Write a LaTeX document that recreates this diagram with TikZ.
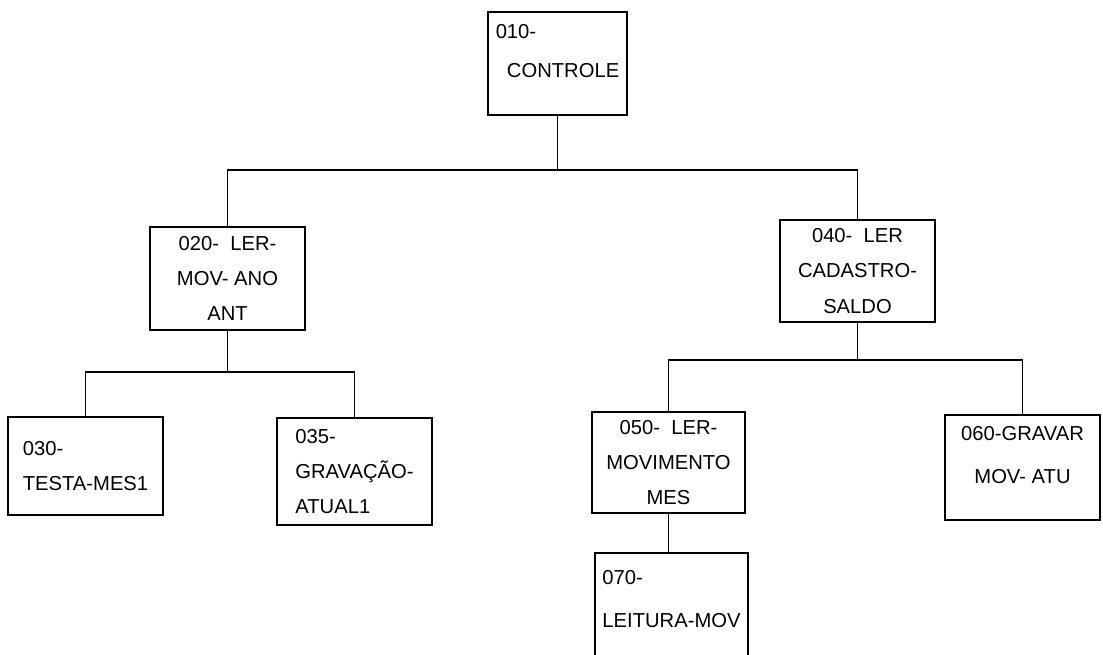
\documentclass[tikz,border=0pt]{standalone}
\usepackage{fontspec}
\setmainfont{Liberation Sans}
\usepackage{tikz}
\usetikzlibrary{positioning, calc}
\tikzset{
	modbox/.style ={rectangle, draw=black, line width=1.4pt, outer sep=0pt, inner sep=2pt, align=center, fill=white},
	link/.style   ={line width=1.1pt},
}
\begin{document}
\begin{tikzpicture}[x=0.02cm, y=-0.02cm, font=\fontsize{11.5}{20}\selectfont]
	\clip (0,0) rectangle (1103,655);
	\fill[white] (0,0) rectangle (1103,655);
	% top level
	\node[modbox, align=left, minimum width=139*0.02cm, minimum height=103*0.02cm, text depth=0.5cm] (b010) at (557.5,63.5) {010-\\[2pt] \ \ CONTROLE};
	% second level
	\node[modbox, minimum width=155*0.02cm, minimum height=103*0.02cm] (b020) at (227.5,278.5) {020-\ \ LER-\\ MOV-\ ANO\\ ANT};
	\node[modbox, minimum width=155*0.02cm, minimum height=102*0.02cm] (b040) at (857.5,271) {040-\ \ LER\\ CADASTRO-\\ SALDO};
	% third level
	\node[modbox, align=left, minimum width=155*0.02cm, minimum height=98*0.02cm] (b030) at (85.5,466) {030-\\ TESTA-MES1};
	\node[modbox, align=left, minimum width=155*0.02cm, minimum height=107*0.02cm] (b035) at (354.5,471.5) {035-\\ GRAVAÇÃO-\\ ATUAL1};
	\node[modbox, minimum width=153*0.02cm, minimum height=101*0.02cm] (b050) at (668.5,462.5) {050-\ \ LER-\\ MOVIMENTO\\ MES};
	\node[modbox, minimum width=155*0.02cm, minimum height=105*0.02cm, text depth=0.5cm] (b060) at (1022.5,467.5) {060-GRAVAR\\[4pt] MOV-\ ATU};
	\node[modbox, align=left, minimum width=153*0.02cm, minimum height=112*0.02cm, text depth=0.4cm] (b070) at (671.5,609) {070-\\[4pt] LEITURA-MOV};
	% junctions
	\coordinate (j1) at (563,170);
	\coordinate (j2) at (230,372);
	\coordinate (j3) at (857,360);
	% connectors
	\draw[link] (b010.south) -- (b010.south |- j1);
	\draw[link] (b020.north) |- (j1) -| (b040.north);
	\draw[link] (b020.south) -- (b020.south |- j2);
	\draw[link] (b030.north) |- (j2) -| (b035.north);
	\draw[link] (b040.south) -- (b040.south |- j3);
	\draw[link] (b050.north) |- (j3) -| (b060.north);
	\draw[link] (b050.south) -- (b050.south |- b070.north);
\end{tikzpicture}
\end{document}
